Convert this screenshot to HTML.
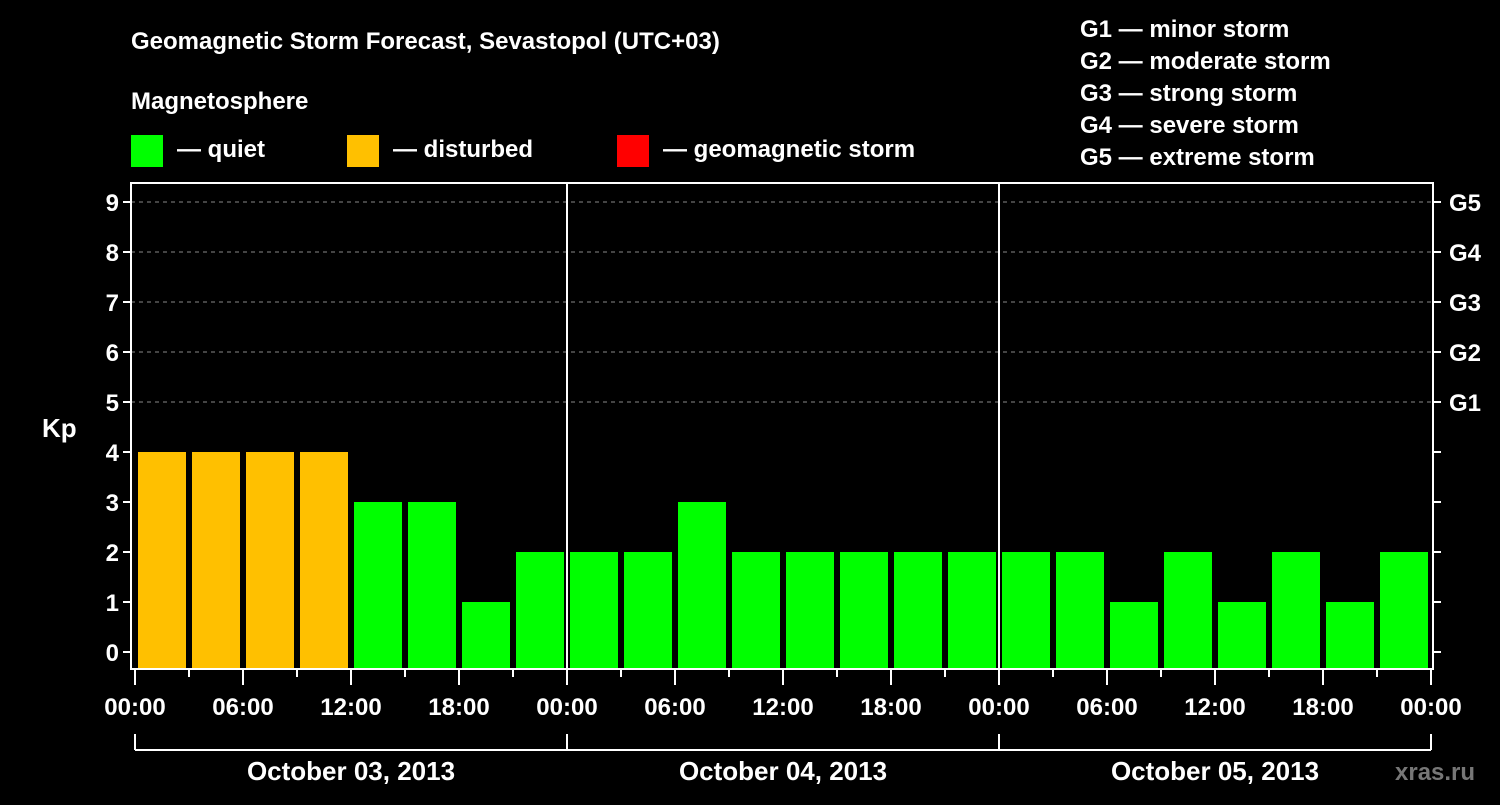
<!DOCTYPE html>
<html><head><meta charset="utf-8"><style>
body{margin:0;background:#000;width:1500px;height:800px;overflow:hidden}
svg text{font-family:"Liberation Sans",Arial,sans-serif;font-weight:bold;fill:#fff}
</style></head><body>
<svg id="c" width="1500" height="800" xmlns="http://www.w3.org/2000/svg">
<text x="131" y="49" font-size="24">Geomagnetic Storm Forecast, Sevastopol (UTC+03)</text>
<text x="131" y="109" font-size="24">Magnetosphere</text>
<g><rect x="131" y="135" width="32" height="32" fill="#00ff00"/><text x="177" y="157" font-size="24">— quiet</text></g>
<g><rect x="347" y="135" width="32" height="32" fill="#ffc000"/><text x="393" y="157" font-size="24">— disturbed</text></g>
<g><rect x="617" y="135" width="32" height="32" fill="#ff0000"/><text x="663" y="157" font-size="24">— geomagnetic storm</text></g>
<g font-size="24">
<text x="1080" y="37">G1 — minor storm</text><text x="1080" y="69">G2 — moderate storm</text><text x="1080" y="101">G3 — strong storm</text><text x="1080" y="133">G4 — severe storm</text><text x="1080" y="165">G5 — extreme storm</text>
</g>
<text x="42" y="437" font-size="26">Kp</text>
<text x="1395" y="780" font-size="24" fill="#777" style="fill:#777">xras.ru</text>
<g id="grid"></g><g id="bars"></g><g id="axes"></g>
</svg>
<script>
const kpValues=[4,4,4,4,3,3,1,2, 2,2,3,2,2,2,2,2, 2,2,1,2,1,2,1,2];
const dayLabels=["October 03, 2013","October 04, 2013","October 05, 2013"];
const hourLabels=["00:00","06:00","12:00","18:00"];
const gLabels=["G1","G2","G3","G4","G5"];
const NS="http://www.w3.org/2000/svg";
const X0=135,HOUR=18,Y0=652,UNIT=50,L=131,R=1433,T=183,B=669;
const xs=h=>X0+h*HOUR, ys=v=>Y0-v*UNIT;
function mk(tag,attrs,parent,txt){const e=document.createElementNS(NS,tag);for(const k in attrs)e.setAttribute(k,attrs[k]);if(txt!==undefined)e.textContent=txt;document.getElementById(parent).appendChild(e);return e;}
for(let v=5;v<=9;v++){const g=mk('line',{x1:L,x2:R,y1:ys(v),y2:ys(v),stroke:'#888','stroke-dasharray':'4,4','stroke-width':1},'grid');

}
kpValues.forEach((v,i)=>{const col=v>=5?'#ff0000':(v>=4?'#ffc000':'#00ff00');
const r=mk('rect',{x:xs(i*3)+3,y:ys(v),width:3*HOUR-6,height:B-ys(v),fill:col},'bars');

});
const a=mk('rect',{x:L,y:T,width:R-L,height:B-T,fill:'none',stroke:'#fff','stroke-width':2},'axes');


for(let d=1;d<3;d++){const l=mk('line',{x1:xs(d*24),x2:xs(d*24),y1:T,y2:B,stroke:'#fff','stroke-width':2},'axes');

}
for(let v=0;v<=9;v++){mk('line',{x1:L-8,x2:L,y1:ys(v),y2:ys(v),stroke:'#fff','stroke-width':2},'axes');
mk('line',{x1:R,x2:R+8,y1:ys(v),y2:ys(v),stroke:'#fff','stroke-width':2},'axes');
const t=mk('text',{x:L-12,y:ys(v)+9,'font-size':24,'text-anchor':'end'},'axes',String(v));

}
gLabels.forEach((g,i)=>{const t=mk('text',{x:1449,y:ys(5+i)+9,'font-size':24},'axes',g);

});
for(let h=0;h<=72;h+=3){const major=h%6===0;mk('line',{x1:xs(h),x2:xs(h),y1:B,y2:B+(major?16:8),stroke:'#fff','stroke-width':2},'axes');
if(major){const t=mk('text',{x:xs(h),y:B+46,'font-size':24,'text-anchor':'middle'},'axes',hourLabels[(h/6)%4]);

}}
mk('line',{x1:xs(0),x2:xs(72),y1:750,y2:750,stroke:'#fff','stroke-width':2},'axes');
for(let d=0;d<=3;d++)mk('line',{x1:xs(d*24),x2:xs(d*24),y1:734,y2:750,stroke:'#fff','stroke-width':2},'axes');
dayLabels.forEach((s,d)=>{const t=mk('text',{x:xs(d*24+12),y:780,'font-size':26,'text-anchor':'middle'},'axes',s);

});
</script>
</body></html>
